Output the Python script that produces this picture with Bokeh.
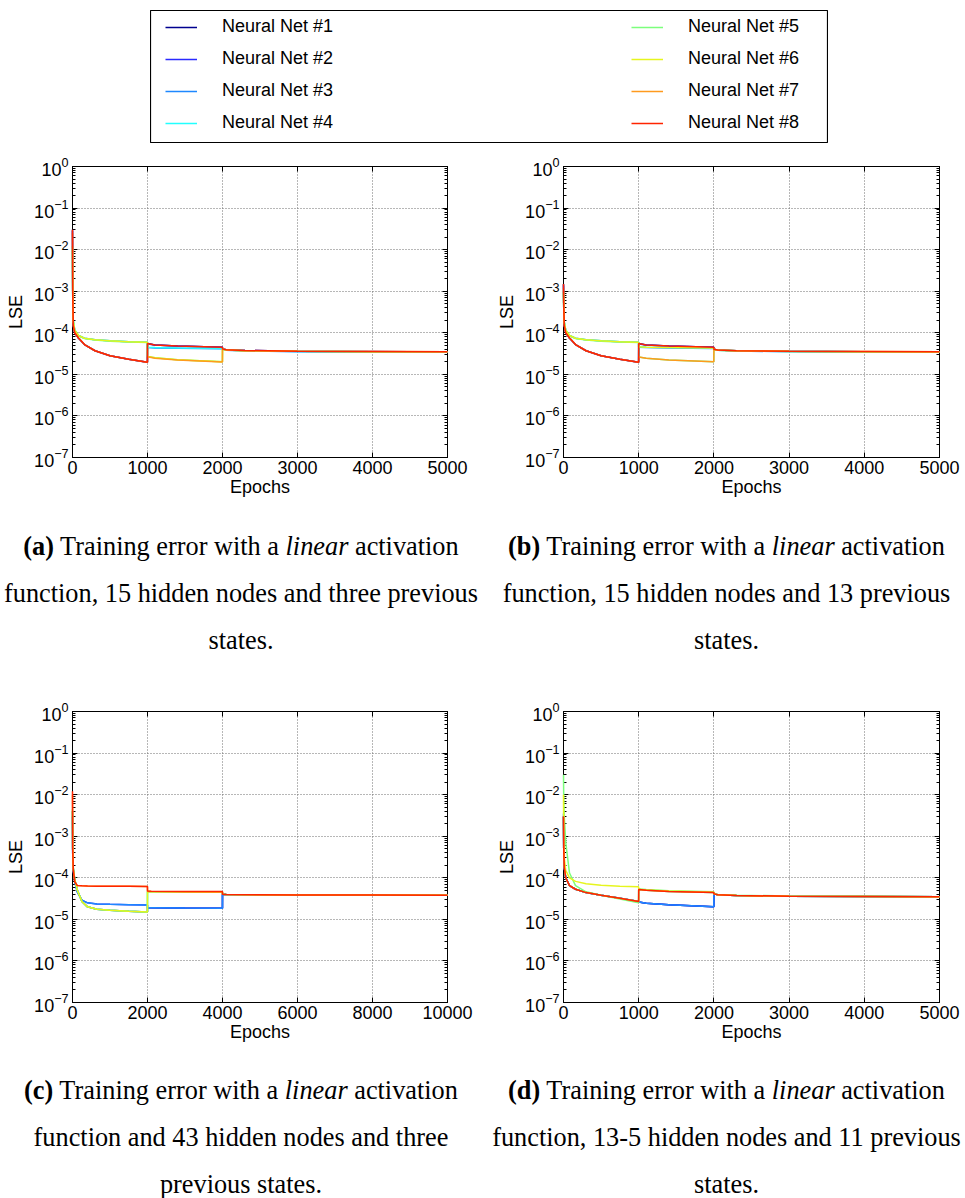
from bokeh.plotting import figure
from bokeh.models import (FixedTicker, LinearAxis, LogAxis, Legend, LegendItem,
                          Div, Spacer, Range1d)
from bokeh.layouts import column, row
from bokeh.embed import file_html
from bokeh.resources import INLINE

# ---------------------------------------------------------------- data
NET_LABELS = ["Neural Net #1", "Neural Net #2", "Neural Net #3", "Neural Net #4",
              "Neural Net #5", "Neural Net #6", "Neural Net #7", "Neural Net #8"]
NET_COLORS = ["#00008F", "#2A2AFF", "#1E88FF", "#22FFFF",
              "#7CFF7C", "#E6F51E", "#FF9A1E", "#FF2400"]

Y_DECADES = [1e-7, 1e-6, 1e-5, 1e-4, 1e-3, 1e-2, 1e-1, 1e0]
X_TICKS_5K = [0, 1000, 2000, 3000, 4000, 5000]
X_TICKS_10K = [0, 2000, 4000, 6000, 8000, 10000]

# (a) linear, 15 hidden nodes, three previous states
EPOCHS_A = [0, 3, 10, 30, 80, 160, 300, 500, 750, 999,
            1000, 1100, 1400, 1999,
            2000, 2050, 2300, 3000, 4000, 5000]
A_NET1 = [3.0e-2, 1.0e-3, 1.5e-4, 1.0e-4, 7.5e-5, 5.2e-5, 3.7e-5, 2.8e-5, 2.3e-5, 1.95e-5,
          5.5e-5, 5.1e-5, 4.8e-5, 4.5e-5, 4.1e-5, 3.9e-5, 3.75e-5, 3.6e-5, 3.52e-5, 3.45e-5]
A_NET2 = [2.8e-2, 9.5e-4, 1.5e-4, 1.0e-4, 7.4e-5, 5.2e-5, 3.7e-5, 2.8e-5, 2.3e-5, 1.95e-5,
          5.4e-5, 5.1e-5, 4.8e-5, 4.5e-5, 4.1e-5, 3.9e-5, 3.75e-5, 3.6e-5, 3.53e-5, 3.47e-5]
A_NET3 = [1.2e-2, 8.0e-4, 2.0e-4, 1.15e-4, 8.6e-5, 7.4e-5, 6.8e-5, 6.4e-5, 6.1e-5, 5.9e-5,
          4.4e-5, 4.3e-5, 4.25e-5, 4.15e-5, 4.0e-5, 3.8e-5, 3.65e-5, 3.5e-5, 3.45e-5, 3.4e-5]
A_NET4 = [1.1e-2, 7.5e-4, 2.0e-4, 1.15e-4, 8.6e-5, 7.4e-5, 6.8e-5, 6.4e-5, 6.1e-5, 5.9e-5,
          4.5e-5, 4.4e-5, 4.3e-5, 4.2e-5, 4.05e-5, 3.85e-5, 3.7e-5, 3.55e-5, 3.5e-5, 3.45e-5]
A_NET5 = [1.0e-2, 7.0e-4, 1.9e-4, 1.12e-4, 8.5e-5, 7.3e-5, 6.7e-5, 6.3e-5, 6.0e-5, 5.85e-5,
          2.7e-5, 2.5e-5, 2.25e-5, 2.0e-5, 4.0e-5, 3.85e-5, 3.7e-5, 3.58e-5, 3.52e-5, 3.48e-5]
A_NET6 = [1.2e-2, 8.0e-4, 2.0e-4, 1.15e-4, 8.7e-5, 7.4e-5, 6.8e-5, 6.4e-5, 6.1e-5, 5.9e-5,
          2.7e-5, 2.5e-5, 2.25e-5, 2.0e-5, 4.0e-5, 3.85e-5, 3.7e-5, 3.58e-5, 3.52e-5, 3.48e-5]
A_NET7 = [2.5e-2, 9.0e-4, 1.5e-4, 1.0e-4, 7.5e-5, 5.2e-5, 3.7e-5, 2.8e-5, 2.3e-5, 1.95e-5,
          2.65e-5, 2.45e-5, 2.2e-5, 1.98e-5, 4.05e-5, 3.88e-5, 3.72e-5, 3.6e-5, 3.55e-5, 3.5e-5]
A_NET8 = [3.0e-2, 1.0e-3, 1.5e-4, 1.0e-4, 7.5e-5, 5.2e-5, 3.7e-5, 2.8e-5, 2.3e-5, 1.95e-5,
          5.5e-5, 5.1e-5, 4.8e-5, 4.5e-5, 4.1e-5, 3.9e-5, 3.75e-5, 3.6e-5, 3.55e-5, 3.5e-5]

# (b) linear, 15 hidden nodes, 13 previous states
EPOCHS_B = EPOCHS_A
B_NET1 = [1.5e-3, 5.0e-4, 1.5e-4, 1.0e-4, 7.5e-5, 5.2e-5, 3.7e-5, 2.8e-5, 2.3e-5, 1.95e-5,
          5.5e-5, 5.1e-5, 4.8e-5, 4.5e-5, 4.0e-5, 3.85e-5, 3.72e-5, 3.6e-5, 3.52e-5, 3.45e-5]
B_NET2 = [1.4e-3, 5.0e-4, 1.5e-4, 1.0e-4, 7.4e-5, 5.2e-5, 3.7e-5, 2.8e-5, 2.3e-5, 1.95e-5,
          5.4e-5, 5.1e-5, 4.8e-5, 4.5e-5, 4.0e-5, 3.85e-5, 3.72e-5, 3.6e-5, 3.52e-5, 3.46e-5]
B_NET3 = [1.0e-3, 4.0e-4, 1.8e-4, 1.15e-4, 8.6e-5, 7.4e-5, 6.8e-5, 6.4e-5, 6.1e-5, 5.9e-5,
          4.5e-5, 4.4e-5, 4.3e-5, 4.2e-5, 3.95e-5, 3.8e-5, 3.65e-5, 3.5e-5, 3.45e-5, 3.4e-5]
B_NET4 = [9.0e-4, 4.0e-4, 1.8e-4, 1.15e-4, 8.6e-5, 7.4e-5, 6.8e-5, 6.4e-5, 6.1e-5, 5.9e-5,
          4.6e-5, 4.5e-5, 4.4e-5, 4.3e-5, 3.95e-5, 3.82e-5, 3.68e-5, 3.55e-5, 3.5e-5, 3.45e-5]
B_NET5 = [9.0e-4, 3.8e-4, 1.8e-4, 1.14e-4, 8.5e-5, 7.3e-5, 6.7e-5, 6.3e-5, 6.0e-5, 5.85e-5,
          2.6e-5, 2.45e-5, 2.2e-5, 2.0e-5, 3.95e-5, 3.82e-5, 3.7e-5, 3.58e-5, 3.52e-5, 3.48e-5]
B_NET6 = [1.0e-3, 4.0e-4, 1.8e-4, 1.15e-4, 8.7e-5, 7.4e-5, 6.8e-5, 6.4e-5, 6.1e-5, 5.9e-5,
          4.6e-5, 4.5e-5, 4.4e-5, 4.3e-5, 3.95e-5, 3.82e-5, 3.7e-5, 3.57e-5, 3.52e-5, 3.47e-5]
B_NET7 = [1.2e-3, 4.5e-4, 1.5e-4, 1.0e-4, 7.5e-5, 5.2e-5, 3.7e-5, 2.8e-5, 2.3e-5, 1.95e-5,
          2.6e-5, 2.45e-5, 2.2e-5, 2.0e-5, 4.0e-5, 3.86e-5, 3.72e-5, 3.6e-5, 3.55e-5, 3.5e-5]
B_NET8 = [1.5e-3, 5.0e-4, 1.5e-4, 1.0e-4, 7.5e-5, 5.2e-5, 3.7e-5, 2.8e-5, 2.3e-5, 1.95e-5,
          5.5e-5, 5.1e-5, 4.8e-5, 4.5e-5, 4.0e-5, 3.85e-5, 3.72e-5, 3.6e-5, 3.55e-5, 3.5e-5]

# (c) linear, 43 hidden nodes, three previous states
EPOCHS_C = [0, 5, 20, 60, 130, 250, 400, 650, 1000, 1500, 1999,
            2000, 2100, 3000, 3999,
            4000, 4100, 6000, 8000, 10000]
C_NET1 = [4.0e-3, 5.0e-4, 1.7e-4, 9.0e-5, 5.0e-5, 2.7e-5, 2.0e-5, 1.75e-5, 1.65e-5, 1.57e-5, 1.5e-5,
          1.9e-5, 1.9e-5, 1.87e-5, 1.85e-5, 4.0e-5, 3.95e-5, 3.88e-5, 3.83e-5, 3.8e-5]
C_NET2 = [3.0e-3, 4.0e-4, 1.5e-4, 8.0e-5, 4.5e-5, 2.9e-5, 2.5e-5, 2.35e-5, 2.3e-5, 2.25e-5, 2.2e-5,
          1.9e-5, 1.9e-5, 1.87e-5, 1.85e-5, 4.0e-5, 3.95e-5, 3.88e-5, 3.83e-5, 3.8e-5]
C_NET3 = [3.0e-3, 4.0e-4, 1.5e-4, 8.0e-5, 4.5e-5, 2.9e-5, 2.5e-5, 2.35e-5, 2.3e-5, 2.25e-5, 2.2e-5,
          1.9e-5, 1.9e-5, 1.87e-5, 1.85e-5, 4.0e-5, 3.95e-5, 3.88e-5, 3.83e-5, 3.8e-5]
C_NET4 = [4.0e-3, 5.0e-4, 1.7e-4, 9.0e-5, 5.0e-5, 2.7e-5, 2.0e-5, 1.75e-5, 1.65e-5, 1.57e-5, 1.5e-5,
          4.65e-5, 4.62e-5, 4.55e-5, 4.5e-5, 4.0e-5, 3.95e-5, 3.88e-5, 3.83e-5, 3.8e-5]
C_NET5 = [4.5e-3, 5.5e-4, 1.8e-4, 9.0e-5, 5.0e-5, 2.7e-5, 2.0e-5, 1.75e-5, 1.65e-5, 1.57e-5, 1.5e-5,
          4.65e-5, 4.62e-5, 4.55e-5, 4.5e-5, 4.0e-5, 3.95e-5, 3.88e-5, 3.83e-5, 3.8e-5]
C_NET6 = [4.0e-3, 5.0e-4, 1.7e-4, 9.0e-5, 5.0e-5, 2.7e-5, 2.0e-5, 1.75e-5, 1.65e-5, 1.57e-5, 1.5e-5,
          4.65e-5, 4.62e-5, 4.55e-5, 4.5e-5, 4.0e-5, 3.95e-5, 3.88e-5, 3.83e-5, 3.8e-5]
C_NET7 = [1.0e-2, 5.0e-4, 1.6e-4, 8.0e-5, 6.5e-5, 6.4e-5, 6.35e-5, 6.3e-5, 6.3e-5, 6.25e-5, 6.2e-5,
          4.7e-5, 4.67e-5, 4.6e-5, 4.55e-5, 4.0e-5, 3.95e-5, 3.88e-5, 3.83e-5, 3.8e-5]
C_NET8 = [1.2e-2, 5.0e-4, 1.6e-4, 8.0e-5, 6.5e-5, 6.4e-5, 6.35e-5, 6.3e-5, 6.3e-5, 6.25e-5, 6.2e-5,
          4.8e-5, 4.77e-5, 4.7e-5, 4.65e-5, 4.0e-5, 3.95e-5, 3.88e-5, 3.83e-5, 3.8e-5]

# (d) linear, 13-5 hidden nodes, 11 previous states
EPOCHS_D = EPOCHS_A
D_NET1 = [3.0e-3, 5.0e-4, 1.8e-4, 1.0e-4, 6.5e-5, 5.3e-5, 4.4e-5, 3.8e-5, 3.2e-5, 2.7e-5,
          2.6e-5, 2.45e-5, 2.25e-5, 2.0e-5, 4.1e-5, 3.9e-5, 3.75e-5, 3.6e-5, 3.55e-5, 3.5e-5]
D_NET2 = [3.0e-3, 5.0e-4, 1.8e-4, 1.0e-4, 6.5e-5, 5.3e-5, 4.4e-5, 3.8e-5, 3.2e-5, 2.7e-5,
          2.6e-5, 2.45e-5, 2.25e-5, 2.0e-5, 4.1e-5, 3.9e-5, 3.75e-5, 3.6e-5, 3.55e-5, 3.5e-5]
D_NET3 = [3.5e-3, 5.0e-4, 1.8e-4, 1.0e-4, 6.5e-5, 5.3e-5, 4.4e-5, 3.8e-5, 3.2e-5, 2.7e-5,
          2.6e-5, 2.45e-5, 2.25e-5, 2.0e-5, 4.1e-5, 3.9e-5, 3.75e-5, 3.6e-5, 3.55e-5, 3.5e-5]
D_NET4 = [3.0e-3, 5.0e-4, 1.8e-4, 1.0e-4, 6.5e-5, 5.3e-5, 4.4e-5, 3.8e-5, 3.2e-5, 2.7e-5,
          5.2e-5, 5.0e-5, 4.7e-5, 4.4e-5, 4.1e-5, 3.9e-5, 3.75e-5, 3.6e-5, 3.55e-5, 3.5e-5]
D_NET5 = [3.0e-2, 8.0e-3, 3.0e-3, 7.0e-4, 1.3e-4, 6.5e-5, 4.6e-5, 3.8e-5, 3.1e-5, 2.5e-5,
          5.4e-5, 5.2e-5, 4.9e-5, 4.6e-5, 4.15e-5, 3.95e-5, 3.8e-5, 3.65e-5, 3.58e-5, 3.52e-5]
D_NET6 = [1.0e-2, 1.0e-3, 3.0e-4, 1.5e-4, 1.0e-4, 8.2e-5, 7.2e-5, 6.6e-5, 6.3e-5, 6.1e-5,
          5.3e-5, 5.1e-5, 4.8e-5, 4.5e-5, 4.1e-5, 3.9e-5, 3.75e-5, 3.6e-5, 3.55e-5, 3.5e-5]
D_NET7 = [3.0e-3, 5.0e-4, 1.8e-4, 1.0e-4, 6.5e-5, 5.3e-5, 4.4e-5, 3.8e-5, 3.2e-5, 2.7e-5,
          5.2e-5, 5.0e-5, 4.7e-5, 4.4e-5, 4.1e-5, 3.9e-5, 3.75e-5, 3.6e-5, 3.55e-5, 3.5e-5]
D_NET8 = [3.0e-3, 5.0e-4, 1.8e-4, 1.0e-4, 6.5e-5, 5.3e-5, 4.4e-5, 3.8e-5, 3.2e-5, 2.7e-5,
          5.2e-5, 5.0e-5, 4.7e-5, 4.4e-5, 4.1e-5, 3.9e-5, 3.75e-5, 3.6e-5, 3.55e-5, 3.5e-5]

CAPTION_A = ("<b>(a)</b> Training error with a <i>linear</i> activation<br>"
             "function, 15 hidden nodes and three previous<br>states.")
CAPTION_B = ("<b>(b)</b> Training error with a <i>linear</i> activation<br>"
             "function, 15 hidden nodes and 13 previous<br>states.")
CAPTION_C = ("<b>(c)</b> Training error with a <i>linear</i> activation<br>"
             "function and 43 hidden nodes and three<br>previous states.")
CAPTION_D = ("<b>(d)</b> Training error with a <i>linear</i> activation<br>"
             "function, 13-5 hidden nodes and 11 previous<br>states.")

SANS = "Liberation Sans"
SERIF = "Liberation Serif"


def minor_log_ticks(decades):
    return [m * d for d in decades[:-1] for m in range(2, 10)]


def style_axis(ax, labels=True):
    ax.axis_line_color = "black"
    ax.major_tick_line_color = "black"
    ax.minor_tick_line_color = "black"
    ax.major_tick_in = 5
    ax.major_tick_out = 0
    ax.minor_tick_in = 3
    ax.minor_tick_out = 0
    if labels:
        ax.major_label_text_font = SANS
        ax.major_label_text_font_size = "18px"
        ax.major_label_text_color = "black"
    else:
        # mirrored tick marks only: labels are measured tiny and never painted
        ax.major_label_text_font_size = "1px"
        ax.major_label_text_color = None
        ax.major_label_standoff = 0


def make_panel(epochs, nets, xticks, width, right_border):
    p = figure(width=width, height=352,
               x_range=Range1d(0, xticks[-1]), y_range=Range1d(1e-7, 1),
               y_axis_type="log", output_backend="svg", toolbar_location=None,
               min_border_left=72, min_border_right=right_border,
               min_border_top=16, min_border_bottom=45)
    p.outline_line_color = "black"
    p.outline_line_alpha = 1.0

    xt = FixedTicker(ticks=xticks, minor_ticks=[])
    yt = FixedTicker(ticks=Y_DECADES, minor_ticks=minor_log_ticks(Y_DECADES))

    p.xaxis.ticker = xt
    p.yaxis.ticker = yt
    for ax in p.xaxis + p.yaxis:
        style_axis(ax)
    p.xaxis.major_label_standoff = 3
    p.yaxis.major_label_standoff = 4
    p.xaxis.axis_label = "Epochs"
    p.yaxis.axis_label = "LSE"
    for ax in p.xaxis + p.yaxis:
        ax.axis_label_text_font = SANS
        ax.axis_label_text_font_size = "18px"
        ax.axis_label_text_font_style = "normal"
        ax.axis_label_text_color = "black"
    p.xaxis.axis_label_standoff = 0
    p.yaxis.axis_label_standoff = 5

    top = LinearAxis(ticker=xt)
    style_axis(top, labels=False)
    p.add_layout(top, "above")
    right = LogAxis(ticker=yt)
    style_axis(right, labels=False)
    p.add_layout(right, "right")

    p.xgrid.ticker = xt
    p.ygrid.ticker = yt
    for g in (p.xgrid, p.ygrid):
        g.grid_line_color = "#6E6E6E"
        g.grid_line_dash = "1 2"
        g.grid_line_width = 1
    p.ygrid.minor_grid_line_color = None

    for vals, color in zip(nets, NET_COLORS):
        p.line(epochs, vals, line_color=color, line_width=1.5, level="overlay")
    return p


def make_caption(html, width, height, pad):
    inner = ('<div style="padding-top:%dpx; font-family:\'%s\', serif; font-size:26.3px; '
             'line-height:47px; text-align:center; color:black; width:%dpx; '
             'white-space:nowrap;">%s</div>'
             % (pad, SERIF, width, html))
    return Div(text=inner, width=width, height=height, margin=0)


# ---------------------------------------------------------------- legend box
leg_fig = figure(width=678, height=133, x_range=(0, 1), y_range=(0, 1),
                 min_border=0, toolbar_location=None, output_backend="svg",
                 x_axis_location=None, y_axis_location=None)
leg_fig.grid.visible = False
leg_fig.outline_line_color = "black"
leg_fig.outline_line_width = 1.2

nan = float("nan")
items = []
for label, color in zip(NET_LABELS, NET_COLORS):
    # proxy renderer: one undrawable point, only its legend swatch shows
    r = leg_fig.line(x=[nan], y=[nan], line_color=color, line_width=1.5)
    items.append(LegendItem(label=label, renderers=[r]))

for chunk, x0 in ((items[:4], 15), (items[4:], 481)):
    leg = Legend(items=chunk, location=(x0, 10), orientation="vertical",
                 glyph_width=32, glyph_height=20, label_height=20, label_standoff=25,
                 spacing=11, padding=0, margin=0,
                 border_line_alpha=0, background_fill_alpha=0,
                 label_text_font=SANS, label_text_font_size="18px",
                 label_text_color="black")
    leg_fig.add_layout(leg)

# ---------------------------------------------------------------- panels
fig_a = make_panel(EPOCHS_A, [A_NET1, A_NET2, A_NET3, A_NET4, A_NET5, A_NET6, A_NET7, A_NET8],
                   X_TICKS_5K, 491, 44)
fig_b = make_panel(EPOCHS_B, [B_NET1, B_NET2, B_NET3, B_NET4, B_NET5, B_NET6, B_NET7, B_NET8],
                   X_TICKS_5K, 474, 26)
fig_c = make_panel(EPOCHS_C, [C_NET1, C_NET2, C_NET3, C_NET4, C_NET5, C_NET6, C_NET7, C_NET8],
                   X_TICKS_10K, 491, 44)
fig_d = make_panel(EPOCHS_D, [D_NET1, D_NET2, D_NET3, D_NET4, D_NET5, D_NET6, D_NET7, D_NET8],
                   X_TICKS_5K, 474, 26)

layout = column(
    Spacer(width=965, height=10, margin=0),
    row(Spacer(width=150, height=133, margin=0), leg_fig),
    Spacer(width=965, height=7, margin=0),
    row(fig_a, fig_b),
    row(make_caption(CAPTION_A, 482, 193, 21), Spacer(width=6, height=193, margin=0),
        make_caption(CAPTION_B, 477, 193, 21)),
    row(fig_c, fig_d),
    row(make_caption(CAPTION_C, 482, 151, 20), Spacer(width=6, height=151, margin=0),
        make_caption(CAPTION_D, 477, 151, 20)),
)

with open("out.html", "w") as f:
    f.write(file_html(layout, INLINE))
